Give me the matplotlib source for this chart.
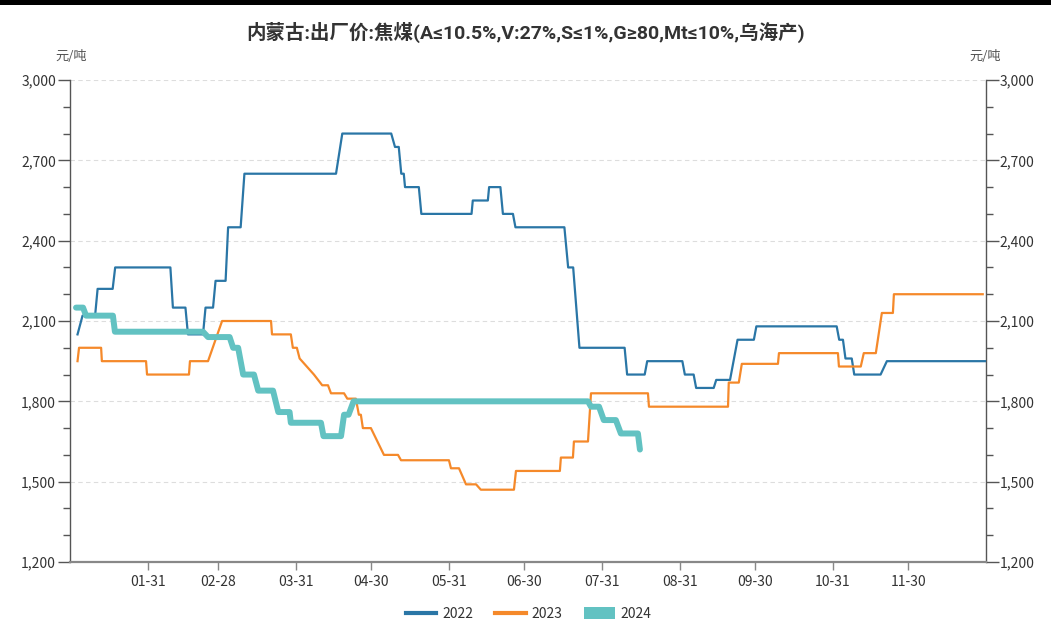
import matplotlib.pyplot as plt
import matplotlib.ticker as mticker
from matplotlib.lines import Line2D
from matplotlib.patches import Patch, Rectangle

plt.rcParams['font.family'] = ['Noto Sans CJK SC', 'DejaVu Sans']

# ----------------------------
# data: day of year -> price (yuan/ton)
# ----------------------------
days_2022 = [3, 5, 10, 11, 17, 18, 40, 41, 46, 47, 53, 54, 57, 58, 62, 63, 68, 69.5,
             106, 108.5, 128, 129.5, 131, 132, 133, 133.5, 139, 140, 160, 160.5,
             166.5, 167, 171.5, 172.5, 176.5, 177.5, 197, 198.5, 200.5, 203, 221,
             222, 229, 230, 244, 245, 248.5, 249.5, 256.5, 257.5, 263, 266, 272.5,
             273.5, 305.5, 306.5, 308, 309, 311.5, 312.5, 323, 325.5, 365]
vals_2022 = [2050, 2120, 2120, 2220, 2220, 2300, 2300, 2150, 2150, 2050, 2050, 2150,
             2150, 2250, 2250, 2450, 2450, 2650, 2650, 2800, 2800, 2750, 2750, 2650,
             2650, 2600, 2600, 2500, 2500, 2550, 2550, 2600, 2600, 2500, 2500, 2450,
             2450, 2300, 2300, 2000, 2000, 1900, 1900, 1950, 1950, 1900, 1900, 1850,
             1850, 1880, 1880, 2030, 2030, 2080, 2080, 2030, 2030, 1960, 1960, 1900,
             1900, 1950, 1950]

days_2023 = [3, 3.6, 12.4, 12.7, 30.3, 30.7, 47.4, 47.8, 55, 60.6, 80.1, 80.5, 88,
             88.8, 90.4, 91.5, 97.2, 100.5, 102.8, 104, 109.2, 110.5, 113.9, 115.1,
             115.9, 116.7, 119.9, 125.1, 130.7, 131.9, 151, 151.8, 155, 157.8, 161.8,
             163.7, 176.9, 177.7, 195.2, 195.6, 200.4, 200.8, 206.4, 207.6, 230.3,
             230.7, 262.2, 262.5, 266.5, 267.7, 282.1, 282.5, 306, 306.4, 315.1,
             316.3, 321.1, 323.5, 327.9, 328.3, 363.7]
vals_2023 = [1950, 2000, 2000, 1950, 1950, 1900, 1900, 1950, 1950, 2100, 2100, 2050,
             2050, 2000, 2000, 1960, 1900, 1860, 1860, 1830, 1830, 1810, 1810, 1750,
             1750, 1700, 1700, 1600, 1600, 1580, 1580, 1550, 1550, 1490, 1490, 1470,
             1470, 1540, 1540, 1590, 1590, 1650, 1650, 1830, 1830, 1780, 1780, 1870,
             1870, 1940, 1940, 1980, 1980, 1930, 1930, 1980, 1980, 2130, 2130, 2200,
             2200]

days_2024 = [2.4, 5.2, 6.4, 17.1, 17.9, 53, 55, 63.6, 65, 67, 69, 73.3, 75, 80.9,
             83, 87.5, 88, 100, 101, 108, 109.2, 111, 113, 206.4, 207.6, 210.8,
             212.7, 217.5, 219.5, 226.3, 227.1]
vals_2024 = [2150, 2150, 2120, 2120, 2060, 2060, 2040, 2040, 2000, 2000, 1900, 1900,
             1840, 1840, 1760, 1760, 1720, 1720, 1670, 1670, 1750, 1750, 1800, 1800,
             1780, 1780, 1730, 1730, 1680, 1680, 1620]

month_end_days = [31, 59, 90, 120, 151, 181, 212, 243, 273, 304, 334]
month_end_labels = ['01-31', '02-28', '03-31', '04-30', '05-31', '06-30',
                    '07-31', '08-31', '09-30', '10-31', '11-30']

c22, c23, c24 = '#2a76a6', '#f5892a', '#62c2c2'

# ----------------------------
# figure
# ----------------------------
fig = plt.figure(figsize=(10.51, 6.38), dpi=100)
ax = fig.add_axes([70 / 1051, 76 / 638, 916 / 1051, 482 / 638])

ax.plot(days_2022, vals_2022, color=c22, lw=1.6, solid_joinstyle='round', zorder=3)
ax.plot(days_2023, vals_2023, color=c23, lw=1.6, solid_joinstyle='round', zorder=3)
ax.plot(days_2024, vals_2024, color=c24, lw=4.3, solid_joinstyle='round',
        solid_capstyle='round', zorder=4)

ax.set_xlim(0, 365)
ax.set_ylim(1200, 3000)

ax.yaxis.set_major_locator(mticker.MultipleLocator(300))
ax.yaxis.set_minor_locator(mticker.MultipleLocator(100))
ax.yaxis.set_major_formatter(mticker.FuncFormatter(lambda v, p: f'{int(v):,}'))
ax.yaxis.set_ticks_position('both')
ax.tick_params(axis='y', which='major', length=9, width=1, color='#555555',
               labelsize=10, labelcolor='#333333', pad=1, labelright=True)
ax.tick_params(axis='y', which='minor', length=5, width=1, color='#555555')

ax.set_xticks(month_end_days)
ax.set_xticklabels(month_end_labels)
ax.tick_params(axis='x', length=6, width=1, color='#888888', labelsize=10,
               labelcolor='#333333', pad=3)

for g in [1500, 1800, 2100, 2400, 2700, 3000]:
    ax.axhline(g, color='#dddddd', lw=0.8, ls=(0, (4, 3)), zorder=1)

for s in ['left', 'right']:
    ax.spines[s].set_color('#555555')
    ax.spines[s].set_linewidth(1)
ax.spines['top'].set_visible(False)
ax.spines['bottom'].set_color('#888888')
ax.spines['bottom'].set_linewidth(1.6)

# titles and units
fig.text(0.5, 1 - 32 / 638, '内蒙古:出厂价:焦煤(A≤10.5%,V:27%,S≤1%,G≥80,Mt≤10%,乌海产)',
         ha='center', va='center', fontsize=14, fontweight='bold', color='#333333',
         family=['Roboto', 'DejaVu Sans', 'Noto Sans CJK SC'])
fig.text(71 / 1051, 1 - 57 / 638, '元/吨', ha='center', va='center',
         fontsize=9.5, color='#555555')
fig.text(985 / 1051, 1 - 57 / 638, '元/吨', ha='center', va='center',
         fontsize=9.5, color='#555555')

# black bar on top
fig.add_artist(Rectangle((0, 1 - 5 / 638), 1, 5 / 638, transform=fig.transFigure,
                         color='black', lw=0))

# legend
handles = [Line2D([], [], color=c22, lw=3),
           Line2D([], [], color=c23, lw=3),
           Patch(facecolor=c24, edgecolor='none')]
fig.legend(handles, ['2022', '2023', '2024'], loc='center',
           bbox_to_anchor=(0.503, 1 - 614 / 638), ncol=3, frameon=False,
           fontsize=10, handlelength=2.2, handleheight=1.0, handletextpad=0.4,
           columnspacing=1.6, labelcolor='#333333')

fig.savefig('out.png', dpi=100)
